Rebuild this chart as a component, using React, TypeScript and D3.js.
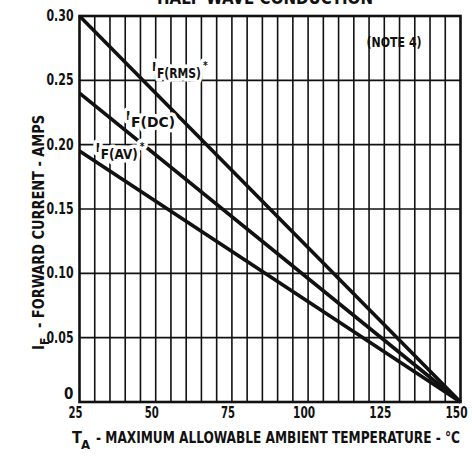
import React from "react";
import * as d3 from "d3";

// ---- data ----
const tempTicks = [25, 50, 75, 100, 125, 150];
const currentTicks = [0, 0.05, 0.1, 0.15, 0.2, 0.25, 0.3];
const currentTickLabels = ["0", "0.05", "0.10", "0.15", "0.20", "0.25", "0.30"];
const gridTemps = d3.range(30, 150, 5);
const gridCurrents = [0.05, 0.1, 0.15, 0.2, 0.25];

const lineTemps = [25, 150];
const rmsCurrent = [0.3, 0];
const dcCurrent = [0.24, 0];
const avCurrent = [0.195, 0];

const title = "HALF-WAVE CONDUCTION";
const note = "(NOTE 4)";
const xTitleMain = "T";
const xTitleSub = "A";
const xTitleRest = "- MAXIMUM ALLOWABLE AMBIENT TEMPERATURE - °C";
const yTitleMain = "I";
const yTitleSub = "F";
const yTitleRest = "- FORWARD CURRENT - AMPS";

const W = 472;
const H = 464;
const left = 79.5;
const right = 460.5;
const top = 16;
const bottom = 402;

const FONT = "'Liberation Sans Narrow', 'DejaVu Sans Condensed', 'Roboto Condensed', 'Liberation Sans', sans-serif";

export default function App() {
  const x = d3.scaleLinear().domain([25, 150]).range([left, right]);
  const y = d3.scaleLinear().domain([0, 0.3]).range([bottom, top]);

  const line = d3
    .line<[number, number]>()
    .x((d) => x(d[0]))
    .y((d) => y(d[1]));

  const series = [
    { name: "RMS", vals: rmsCurrent },
    { name: "DC", vals: dcCurrent },
    { name: "AV", vals: avCurrent },
  ];

  const halo = {
    stroke: "#fff",
    strokeWidth: 7,
    paintOrder: "stroke" as const,
    strokeLinejoin: "round" as const,
  };

  const labels = [
    { main: "I", sub: "F(RMS)", star: true, t: 49.1, c: 0.2572, subLen: 44 },
    { main: "I", sub: "F(DC)", star: false, t: 40.6, c: 0.2192, subLen: 44 },
    { main: "I", sub: "F(AV)", star: true, t: 30.7, c: 0.1943, subLen: 37 },
  ];

  return (
    <svg
      width={W}
      height={H}
      style={{ position: "absolute", left: 0, top: 0, background: "#fff" }}
      fontFamily={FONT}
      fontWeight="bold"
    >
      <rect x={0} y={0} width={W} height={H} fill="#fff" />
      {/* title (clipped at the top) */}
      <text
        x={265}
        y={4}
        textAnchor="middle"
        fontSize={17}
        textLength={216}
        lengthAdjust="spacingAndGlyphs"
        fill="#111"
      >
        {title}
      </text>

      {/* grid */}
      <g stroke="#111" strokeWidth={1.6}>
        {gridTemps.map((t) => (
          <line key={"v" + t} x1={x(t)} x2={x(t)} y1={top} y2={bottom} />
        ))}
        {gridCurrents.map((c) => (
          <line key={"h" + c} x1={left} x2={right} y1={y(c)} y2={y(c)} />
        ))}
      </g>

      {/* curves */}
      {series.map((s) => (
        <path
          key={s.name}
          d={line(lineTemps.map((t, i) => [t, s.vals[i]] as [number, number])) || ""}
          fill="none"
          stroke="#111"
          strokeWidth={3.6}
        />
      ))}

      {/* frame */}
      <rect
        x={left}
        y={top}
        width={right - left}
        height={bottom - top}
        fill="none"
        stroke="#111"
        strokeWidth={2.6}
      />

      {/* curve labels */}
      {labels.map((l, i) => {
        const px = x(l.t);
        const py = y(l.c);
        return (
          <g key={i} fill="#111">
            <text x={px - 1} y={py} fontSize={13} {...halo}>
              {l.main}
            </text>
            <text
              x={px + 4}
              y={py + 7}
              fontSize={14}
              textLength={l.subLen}
              lengthAdjust="spacingAndGlyphs"
              {...halo}
            >
              {l.sub}
            </text>
            {l.star && (
              <text x={px + 4 + l.subLen + 2} y={py - 2} fontSize={10} {...halo}>
                *
              </text>
            )}
          </g>
        );
      })}

      {/* note */}
      <text
        x={x(128.2)}
        y={47}
        textAnchor="middle"
        fontSize={14}
        textLength={55}
        lengthAdjust="spacingAndGlyphs"
        fill="#111"
      >
        {note}
      </text>

      {/* y tick labels */}
      {currentTicks.map((c, i) => (
        <text
          key={"yl" + c}
          x={left - 6}
          y={c === 0 ? y(c) - 3 : y(c) + 5}
          textAnchor="end"
          fontSize={15}
          textLength={currentTickLabels[i].length === 1 ? undefined : 27}
          lengthAdjust="spacingAndGlyphs"
          fill="#111"
        >
          {currentTickLabels[i]}
        </text>
      ))}

      {/* x tick labels */}
      {tempTicks.map((t) => (
        <text
          key={"xl" + t}
          x={x(t) - 4}
          y={y(0) + 16}
          textAnchor="middle"
          fontSize={15}
          textLength={String(t).length === 2 ? 14 : 22}
          lengthAdjust="spacingAndGlyphs"
          fill="#111"
        >
          {t}
        </text>
      ))}

      {/* x axis title */}
      <g fill="#111">
        <text x={72} y={443} fontSize={16}>
          {xTitleMain}
        </text>
        <text x={81} y={449} fontSize={13}>
          {xTitleSub}
        </text>
        <text
          x={96}
          y={443}
          fontSize={16}
          textLength={364}
          lengthAdjust="spacingAndGlyphs"
        >
          {xTitleRest}
        </text>
      </g>

      {/* y axis title */}
      <g fill="#111" transform="translate(44,0) rotate(-90)">
        <text x={-350} y={0} fontSize={15}>
          {yTitleMain}
        </text>
        <text x={-345} y={5} fontSize={12}>
          {yTitleSub}
        </text>
        <text
          x={-328}
          y={0}
          fontSize={15}
          textLength={213}
          lengthAdjust="spacingAndGlyphs"
        >
          {yTitleRest}
        </text>
      </g>
    </svg>
  );
}
